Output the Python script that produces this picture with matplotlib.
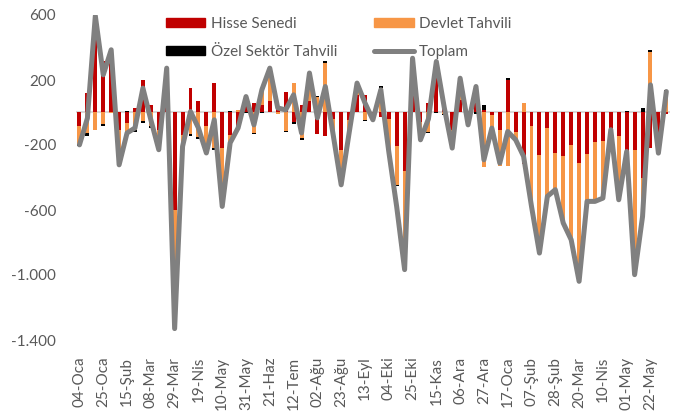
import matplotlib
matplotlib.use("Agg")
import matplotlib.pyplot as plt
from matplotlib.lines import Line2D
from matplotlib.patches import Patch

plt.rcParams['font.family'] = ['Lato', 'DejaVu Sans']

# ---- data (weekly, 75 weeks) ----
hisse = [-86, 119, 700, 314, 390, -107, -66, 27, 201, 47, -107, 200, -600, -140, 150,
         68, -86, 181, -219, -137, -96, 60, 57, 47, 68, 40, 129, -60, 45, 68,
         -135, -143, -40, -230, -45, 109, 109, -20, -25, -40, -209, -360, 100, -60, 57,
         260, 40, -107, 78, -30, 57, 16, -15, -107, 201, -117, -320, -86, -260, -96,
         -250, -270, -199, -311, -256, -184, -174, -100, -143, -240, -230, -403, -219, -250, -10]
devlet = [-110, -127, -105, -70, -5, -215, -62, -110, -55, -85, -122, 73, -720, -60, -130,
          -150, -150, -220, -350, -55, 15, 40, -127, 95, 205, -12, -111, 180, -155, 170,
          95, 304, -96, -215, -80, 72, -45, -25, 150, -200, -236, -600, 230, -108, -117,
          57, -10, -110, 133, -46, 110, -335, -72, -225, -332, -51, 57, -490, -605, -420,
          -225, -410, -584, -730, -291, -348, -353, -6, -394, -10, -768, -240, 375, 0, 130]
ozel = [-8, -20, 0, -12, 0, 0, 8, -10, -8, -8, 0, 0, -10, -9, -12,
        -13, -13, -10, -9, 8, -8, -6, -8, -4, 0, 0, -8, -8, -15, 6,
        8, 10, 0, 0, 0, 0, -8, 0, 10, 0, -10, -6, 0, 0, -10,
        -6, -6, 0, 0, 0, -8, 28, -10, 0, 10, 0, 0, 0, 0, 6,
        0, 0, 0, 0, 0, 0, 0, 4, 0, 10, 0, 30, 10, 0, 8]
toplam = [-199, -35, 595, 232, 386, -322, -126, -95, 150, -45, -229, 273, -1330, -209, 6,
          -95, -249, -45, -578, -187, -95, 98, -76, 140, 273, 28, 16, 109, -126, 243,
          -33, 160, -140, -445, -126, 181, 59, -45, 140, -240, -580, -967, 334, -168, -40,
          314, 30, -219, 211, -76, 160, -291, -96, -311, -117, -168, -270, -578, -865, -516,
          -475, -680, -783, -1039, -547, -547, -527, -106, -537, -240, -998, -640, 170, -250, 129]

tick_labels = ["04-Oca", "25-Oca", "15-Şub", "08-Mar", "29-Mar", "19-Nis", "10-May",
               "31-May", "21-Haz", "12-Tem", "02-Ağu", "23-Ağu", "13-Eyl", "04-Eki",
               "25-Eki", "15-Kas", "06-Ara", "27-Ara", "17-Oca", "07-Şub", "28-Şub",
               "20-Mar", "10-Nis", "01-May", "22-May"]
y_ticks = [600, 200, -200, -600, -1000, -1400]
y_tick_labels = ["600", "200", "-200", "-600", "-1.000", "-1.400"]

series_names = ["Hisse Senedi", "Devlet Tahvili", "Özel Sektör Tahvili"]
series_colors = ["#C00000", "#F79646", "#000000"]
line_name = "Toplam"
line_color = "#808080"
text_color = "#595959"

# ---- figure ----
fig = plt.figure(figsize=(6.77, 4.15), dpi=100)
ax = fig.add_axes([75.5 / 677, 1 - 340 / 415, (670.3 - 75.5) / 677, (340 - 15) / 415])

n = len(toplam)
x = list(range(n))
pos = [0.0] * n
neg = [0.0] * n
for vals, col in zip([hisse, devlet, ozel], series_colors):
    bottoms = []
    for i, v in enumerate(vals):
        if v >= 0:
            bottoms.append(pos[i]); pos[i] += v
        else:
            bottoms.append(neg[i]); neg[i] += v
    ax.bar(x, vals, bottom=bottoms, width=0.5, color=col, zorder=2, linewidth=0)

ax.axhline(0, color="#D9D9D9", linewidth=1.5, zorder=1)
ax.plot(x, toplam, color=line_color, linewidth=3.6, solid_joinstyle='round',
        solid_capstyle='round', zorder=3)

ax.set_xlim(-0.5, n - 0.5)
ax.set_ylim(-1400, 600)
ax.set_yticks(y_ticks)
ax.set_yticklabels(y_tick_labels)
ax.set_xticks(list(range(0, n, 3))[:len(tick_labels)])
ax.set_xticklabels(tick_labels, rotation=90)
ax.tick_params(axis='both', length=0, colors=text_color, labelsize=11)
ax.tick_params(axis='y', pad=14)
ax.tick_params(axis='x', pad=12)
for s in ax.spines.values():
    s.set_visible(False)

handles = [Patch(color=series_colors[0]), Patch(color=series_colors[1]),
           Patch(color=series_colors[2]), Line2D([], [], color=line_color, linewidth=3.6,
                                                 solid_capstyle='round')]
labels = [series_names[0], series_names[1], series_names[2], line_name]
# order for 2 columns (column-major): col1 = Hisse, Özel ; col2 = Devlet, Toplam
order = [0, 2, 1, 3]
leg = fig.legend([handles[i] for i in order], [labels[i] for i in order], ncol=2,
                 loc='upper left', bbox_to_anchor=(152 / 677, 1 - 3 / 415), frameon=False,
                 fontsize=11, handlelength=2.6, handleheight=0.55, columnspacing=2.4,
                 labelspacing=0.95, handletextpad=0.35, labelcolor=text_color)

fig.savefig("out.png", dpi=100)
